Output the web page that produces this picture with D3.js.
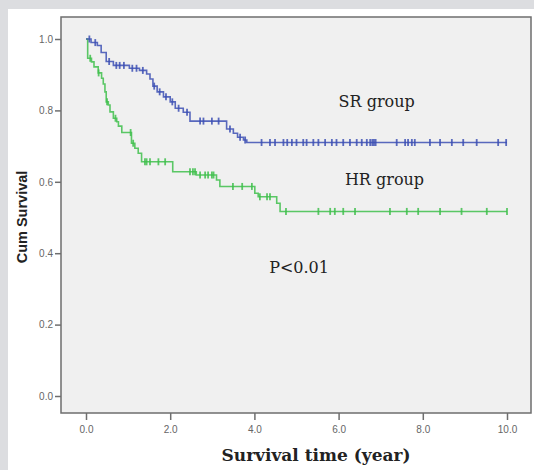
<!DOCTYPE html>
<html>
<head>
<meta charset="utf-8">
<script src="https://cdn.jsdelivr.net/npm/d3@7"></script>
<style>
html,body{margin:0;padding:0;background:#dcdde0;}
svg{display:block;}
</style>
</head>
<body>
<svg id="chart" width="534" height="470"></svg>
<script>
// ---- data ----
const xTicks = [0, 2, 4, 6, 8, 10];
const xTickLabels = ["0.0", "2.0", "4.0", "6.0", "8.0", "10.0"];
const yTicks = [0, 0.2, 0.4, 0.6, 0.8, 1.0];
const yTickLabels = ["0.0", "0.2", "0.4", "0.6", "0.8", "1.0"];

// SR group (blue) step function: event times and survival after each step
const srTimes = [0, 0.12, 0.27, 0.36, 0.48, 0.65, 1.03, 1.27, 1.44, 1.52, 1.59, 1.69, 1.84, 2.0, 2.12, 2.31, 2.47, 3.34, 3.5, 3.6, 3.74, 3.82];
const srSurv  = [1.0, 0.99, 0.982, 0.962, 0.937, 0.926, 0.918, 0.912, 0.902, 0.888, 0.868, 0.852, 0.838, 0.824, 0.806, 0.795, 0.77, 0.748, 0.736, 0.725, 0.717, 0.71];
const srEnd = 10.0;
const srCensored = [0.08, 0.22, 0.55, 0.72, 0.8, 0.9, 1.1, 1.2, 1.35, 1.62, 1.75, 1.9, 2.05, 2.2, 2.4, 2.71, 2.79, 2.99, 3.15, 3.42, 3.66, 3.78,
  4.17, 4.37, 4.49, 4.69, 4.78, 4.89, 5.0, 5.16, 5.24, 5.4, 5.52, 5.68, 5.84, 5.95, 6.11, 6.27, 6.43, 6.55, 6.67, 6.75, 6.8, 6.84, 6.88,
  7.38, 7.58, 7.65, 7.74, 7.81, 8.17, 8.41, 8.69, 8.96, 9.28, 9.79, 9.98];

// HR group (green)
const hrTimes = [0, 0.04, 0.13, 0.19, 0.29, 0.37, 0.41, 0.45, 0.48, 0.53, 0.57, 0.65, 0.73, 0.77, 0.85, 1.08, 1.16, 1.24, 1.32, 2.06, 2.62, 3.1, 3.18, 4.01, 4.09, 4.53, 4.61];
const hrSurv  = [1.0, 0.946, 0.936, 0.922, 0.905, 0.89, 0.874, 0.852, 0.824, 0.815, 0.796, 0.778, 0.768, 0.756, 0.738, 0.708, 0.694, 0.68, 0.656, 0.628, 0.619, 0.605, 0.587, 0.568, 0.558, 0.54, 0.517];
const hrEnd = 10.0;
const hrCensored = [0.1, 0.3, 0.5, 0.7, 1.06, 1.12, 1.4, 1.44, 1.52, 1.72, 1.88, 2.47, 2.54, 2.59, 2.71, 2.83, 2.9, 2.99, 3.03, 3.49, 3.71, 3.94, 4.13, 4.3, 4.37,
  4.75, 5.52, 5.8, 5.91, 6.11, 6.39, 7.22, 7.62, 7.89, 8.41, 8.92, 9.52, 10.0];

const labels = [
  {text: "SR group", t: 6.0, s: 0.81},
  {text: "HR group", t: 6.15, s: 0.59},
  {text: "P<0.01", t: 4.35, s: 0.345}
];

// ---- drawing ----
const svg = d3.select("#chart");
const W = 534, H = 470;

svg.append("rect").attr("x", 8).attr("y", 9).attr("width", W - 8).attr("height", H - 9).attr("fill", "#ffffff");

const frame = {left: 61, top: 17, right: 531, bottom: 413};
const x = d3.scaleLinear().domain([0, 10]).range([86, 507]);
const y = d3.scaleLinear().domain([0, 1]).range([396, 39]);

svg.append("rect")
  .attr("x", frame.left).attr("y", frame.top)
  .attr("width", frame.right - frame.left).attr("height", frame.bottom - frame.top)
  .attr("fill", "#f0f0f0").attr("stroke", "#6e6e6e").attr("stroke-width", 1.5);

// axes
const xAxis = d3.axisBottom(x).tickValues(xTicks).tickFormat((d, i) => xTickLabels[i]).tickSize(7).tickSizeOuter(0);
const gx = svg.append("g").attr("transform", `translate(0,${frame.bottom})`).call(xAxis);
gx.select(".domain").remove();
gx.selectAll(".tick line").attr("stroke", "#6e6e6e").attr("stroke-width", 1.5);
gx.selectAll(".tick text").attr("fill", "#666").attr("font-family", "Liberation Sans, Arial, sans-serif").attr("font-size", 10).attr("dy", "0.95em").attr("y", 10);

const yAxis = d3.axisLeft(y).tickValues(yTicks).tickFormat((d, i) => yTickLabels[i]).tickSize(6).tickSizeOuter(0);
const gy = svg.append("g").attr("transform", `translate(${frame.left},0)`).call(yAxis);
gy.select(".domain").remove();
gy.selectAll(".tick line").attr("stroke", "#6e6e6e").attr("stroke-width", 1.5);
gy.selectAll(".tick text").attr("fill", "#666").attr("font-family", "Liberation Sans, Arial, sans-serif").attr("font-size", 10).attr("x", -8);

// curves
function stepData(times, surv, end) {
  const pts = times.map((t, i) => [t, surv[i]]);
  pts.push([end, surv[surv.length - 1]]);
  return pts;
}
function survAt(times, surv, t) {
  let s = surv[0];
  for (let i = 0; i < times.length; i++) if (times[i] <= t) s = surv[i];
  return s;
}
const line = d3.line().x(d => x(d[0])).y(d => y(d[1])).curve(d3.curveStepAfter);

function drawGroup(times, surv, end, cens, color) {
  svg.append("path").datum(stepData(times, surv, end))
    .attr("d", line).attr("fill", "none").attr("stroke", color).attr("stroke-width", 1.6).attr("stroke-opacity", 0.85);
  svg.append("g").selectAll("line").data(cens).join("line")
    .attr("x1", d => x(d)).attr("x2", d => x(d))
    .attr("y1", d => y(survAt(times, surv, d)) - 3.5)
    .attr("y2", d => y(survAt(times, surv, d)) + 3.5)
    .attr("stroke", color).attr("stroke-width", 1.8).attr("stroke-opacity", 0.85);
}
drawGroup(hrTimes, hrSurv, hrEnd, hrCensored, "#3fbf4c");
drawGroup(srTimes, srSurv, srEnd, srCensored, "#3d50b4");

// annotations
svg.append("g").selectAll("text").data(labels).join("text")
  .attr("x", d => x(d.t)).attr("y", d => y(d.s))
  .attr("font-family", "DejaVu Serif, serif").attr("font-size", 16).attr("fill", "#222")
  .text(d => d.text);

// axis titles
svg.append("text").attr("x", 316).attr("y", 461).attr("text-anchor", "middle")
  .attr("font-family", "DejaVu Serif, serif").attr("font-weight", "bold").attr("font-size", 17).attr("fill", "#222")
  .text("Survival time (year)");
svg.append("text").attr("transform", "translate(27,217) rotate(-90)").attr("text-anchor", "middle")
  .attr("font-family", "Liberation Sans, Arial, sans-serif").attr("font-weight", "bold").attr("font-size", 14.5).attr("fill", "#222")
  .text("Cum Survival");
</script>
</body>
</html>
